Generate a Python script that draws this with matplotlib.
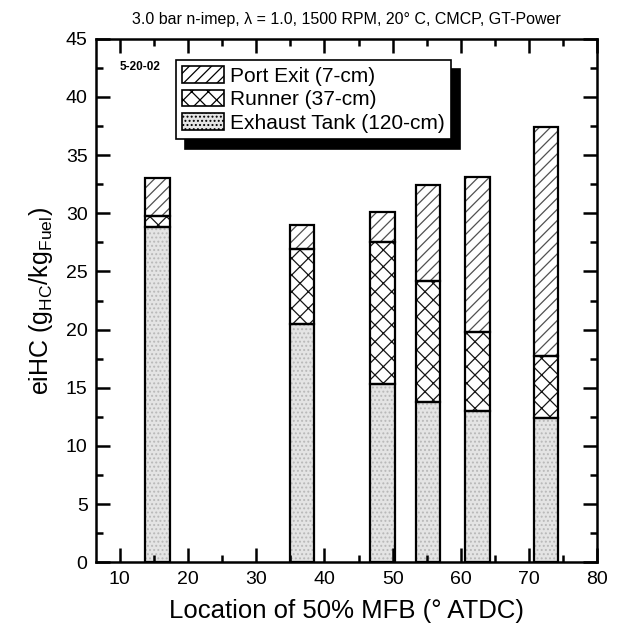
import matplotlib
matplotlib.use("Agg")
import matplotlib.pyplot as plt
from matplotlib.patches import Patch
from matplotlib.ticker import MultipleLocator

plt.rcParams['font.family'] = ['Liberation Sans', 'DejaVu Sans']
plt.rcParams['hatch.linewidth'] = 0.9

# location of 50% MFB (deg ATDC)
mfb_loc = [15.5, 36.7, 48.5, 55.2, 62.4, 72.5]
# eiHC contribution of each section (g_HC / kg_Fuel), stacked bottom to top
exhaust_tank = [28.8, 20.5, 15.3, 13.8, 13.0, 12.4]
runner = [1.0, 6.4, 12.2, 10.4, 6.8, 5.3]
port_exit = [3.2, 2.1, 2.6, 8.2, 13.3, 19.7]

labels = ["Port Exit (7-cm)", "Runner (37-cm)", "Exhaust Tank (120-cm)"]
bar_w = 3.6

fig = plt.figure(figsize=(6.19, 6.36), dpi=100)
ax = fig.add_axes([0.155, 0.116, 0.81, 0.823])

runner_bot = [a for a in exhaust_tank]
port_bot = [a + b for a, b in zip(exhaust_tank, runner)]

# fill / hatch layer
ax.bar(mfb_loc, exhaust_tank, width=bar_w, color="#e4e4e4", hatch="....",
       edgecolor="#b8b8b8", lw=0)
ax.bar(mfb_loc, runner, bottom=runner_bot, width=bar_w, color="white",
       hatch="xx", edgecolor="#151515", lw=0)
ax.bar(mfb_loc, port_exit, bottom=port_bot, width=bar_w, color="white",
       hatch="///", edgecolor="#505050", lw=0)
# outlines
for vals, bot in [(exhaust_tank, None), (runner, runner_bot), (port_exit, port_bot)]:
    ax.bar(mfb_loc, vals, bottom=bot, width=bar_w, fill=False,
           edgecolor="black", lw=1.6)

ax.set_xlim(6.5, 80)
ax.set_ylim(0, 45)
ax.xaxis.set_major_locator(MultipleLocator(10))
ax.xaxis.set_minor_locator(MultipleLocator(5))
ax.yaxis.set_major_locator(MultipleLocator(5))
ax.yaxis.set_minor_locator(MultipleLocator(2.5))
ax.tick_params(which="both", direction="in", top=True, right=True,
               width=1.8, labelsize=14)
ax.tick_params(which="major", length=10, pad=6)
ax.tick_params(which="minor", length=5)
for s in ax.spines.values():
    s.set_linewidth(1.8)

ax.set_xlabel("Location of 50% MFB (\u00b0 ATDC)", fontsize=18.5, labelpad=8)
ax.set_ylabel(r"eiHC (g$_\mathregular{HC}$/kg$_\mathregular{Fuel}$)",
              fontsize=18, labelpad=8)
ax.set_title("3.0 bar n-imep, \u03bb = 1.0, 1500 RPM, 20\u00b0 C, CMCP, GT-Power",
             fontsize=11.5, pad=11)

ax.text(10, 42.6, "5-20-02", fontsize=8.5, fontweight="bold",
        va="center", ha="left")

handles = [
    Patch(facecolor="white", edgecolor="black", hatch="///", lw=1.2),
    Patch(facecolor="white", edgecolor="black", hatch="xx", lw=1.2),
    Patch(facecolor="#e4e4e4", edgecolor="black", hatch="....", lw=1.2),
]
leg = ax.legend(handles, labels, loc="upper left", bbox_to_anchor=(0.16, 0.96),
                borderaxespad=0, fontsize=15, frameon=True, fancybox=False,
                handlelength=2.0, handleheight=0.85, handletextpad=0.3,
                labelspacing=0.2, borderpad=0.3,
                shadow={"ox": 6, "oy": -7, "facecolor": "black",
                        "edgecolor": "black", "alpha": 1})
leg.get_frame().set_edgecolor("black")
leg.get_frame().set_linewidth(1.2)

fig.savefig("out.png", dpi=100)
